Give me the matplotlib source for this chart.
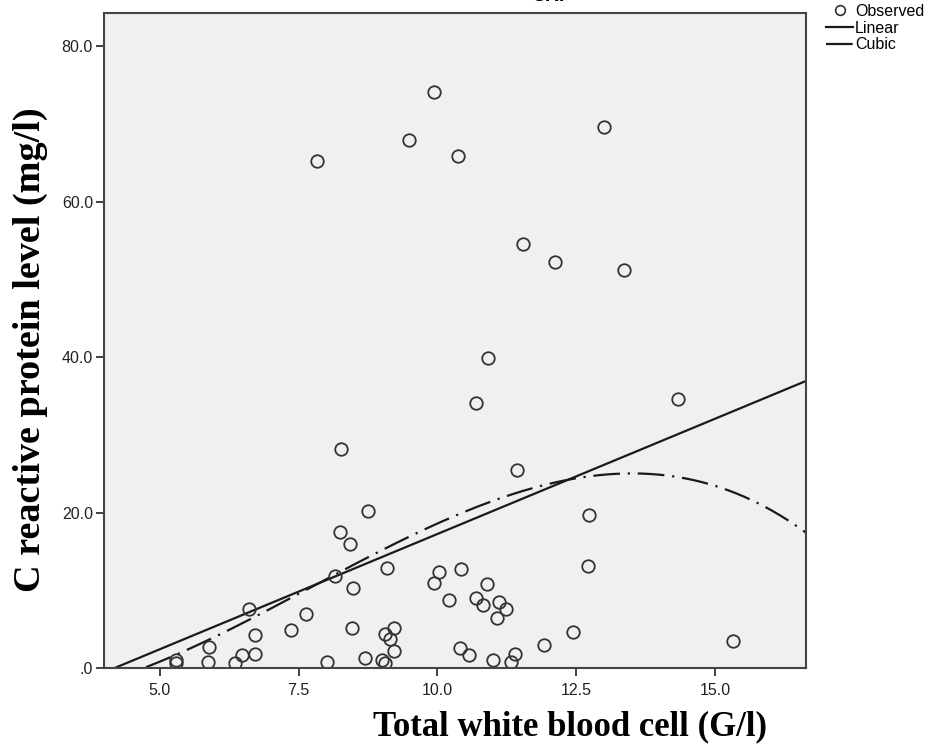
import numpy as np
import matplotlib
matplotlib.use("Agg")
import matplotlib.pyplot as plt
from matplotlib.lines import Line2D

# Observed points: total white blood cell (G/l) vs CRP (mg/l)
wbc = [9.93, 9.49, 10.36, 7.83, 12.99, 11.53, 12.11, 13.36, 8.26, 10.70,
       10.90, 14.32, 11.43,
       12.72, 12.71, 12.44, 11.91, 15.31,
       8.75, 8.24, 8.43, 8.16, 9.10, 8.48, 10.02, 9.94, 10.43, 10.20,
       10.89, 10.69, 10.81, 11.10, 11.24, 11.07, 8.46, 9.21, 9.06, 9.14,
       9.21, 10.40, 10.56, 11.39, 10.99, 11.33, 8.70, 9.00, 9.05, 8.01,
       6.60, 7.63, 7.36, 6.71, 5.89, 6.71, 6.49, 6.35, 5.87, 5.30, 5.29]
crp = [74.1, 67.9, 65.9, 65.2, 69.6, 54.6, 52.2, 51.2, 28.2, 34.1,
       39.9, 34.6, 25.5,
       19.7, 13.1, 4.6, 3.0, 3.5,
       20.2, 17.5, 15.9, 11.8, 12.9, 10.3, 12.3, 11.0, 12.7, 8.75,
       10.8, 9.0, 8.1, 8.5, 7.6, 6.4, 5.1, 5.1, 4.4, 3.7,
       2.2, 2.6, 1.7, 1.8, 1.0, 0.8, 1.3, 1.0, 0.7, 0.8,
       7.6, 7.0, 4.9, 4.2, 2.7, 1.8, 1.7, 0.6, 0.8, 1.0, 0.6]

# fitted curves
linear_coef = [2.97, -12.45]                       # slope, intercept
cubic_coef = [-0.0381, -0.2593, 3.215, 18.6]       # in (x - 10)
cubic_shift = 10.0

x_ticks = [5.0, 7.5, 10.0, 12.5, 15.0]
x_tick_labels = ["5.0", "7.5", "10.0", "12.5", "15.0"]
y_ticks = [0, 20, 40, 60, 80]
y_tick_labels = [".0", "20.0", "40.0", "60.0", "80.0"]

fig = plt.figure(figsize=(9.42, 7.51), dpi=100)
ax = fig.add_axes([104 / 942, 1 - 668 / 751, 702 / 942, 655 / 751])
ax.set_facecolor("#f0f0f0")

xs = np.linspace(4.0, 16.63, 400)
ax.plot(xs, np.polyval(linear_coef, xs), color="#1a1a1a", lw=1.6)
ax.plot(xs, np.polyval(cubic_coef, xs - cubic_shift), color="#1a1a1a", lw=1.6,
        linestyle=(0, (12, 3.5, 1, 3.5)))
ax.plot(wbc, crp, linestyle="none", marker="o", markersize=9,
        markerfacecolor="none", markeredgecolor="#333333", markeredgewidth=1.3)

ax.set_xlim(4.0, 16.63)
ax.set_ylim(0, 84.3)

tick_font = {"family": "Liberation Sans", "size": 11.5}
ax.set_xticks(x_ticks)
ax.set_xticklabels(x_tick_labels, fontdict=tick_font, color="#222222")
ax.set_yticks(y_ticks)
ax.set_yticklabels(y_tick_labels, fontdict=tick_font, color="#222222")
ax.tick_params(direction="out", length=6, width=1.3, color="#333333")
ax.tick_params(axis="x", pad=5)
ax.tick_params(axis="y", pad=2)
for s in ax.spines.values():
    s.set_color("#444444")
    s.set_linewidth(1.5)

# axis titles (serif, bold), positioned like the original
fig.text(570 / 942, 1 - 727 / 751, "Total white blood cell (G/l)",
         family="Liberation Serif", weight="bold", size=25,
         ha="center", va="center")
fig.text(30 / 942, 1 - 350 / 751, "C reactive protein level (mg/l)",
         family="Liberation Serif", weight="bold", size=27.5,
         rotation=90, ha="center", va="center")

# chart title, cut off at the top edge as in the source
fig.text(552 / 942, 1 - 5 / 751, "CRP", family="Liberation Sans",
         weight="bold", size=14, ha="center", va="bottom")

handles = [
    Line2D([], [], linestyle="none", marker="o", markersize=7,
           markerfacecolor="none", markeredgecolor="#333333", markeredgewidth=1.2),
    Line2D([], [], color="#1a1a1a", lw=1.6),
    Line2D([], [], color="#1a1a1a", lw=1.6, linestyle=(0, (12, 1.5, 1, 3.5))),
]
fig.legend(handles, ["Observed", "Linear", "Cubic"], loc="upper left",
           bbox_to_anchor=(826 / 942, 1 - 4 / 751), frameon=False,
           handlelength=1.7, handletextpad=0.1, labelspacing=0.1,
           borderaxespad=0, borderpad=0,
           prop={"family": "Liberation Sans", "size": 11.5})

fig.savefig("out.png", dpi=100)
